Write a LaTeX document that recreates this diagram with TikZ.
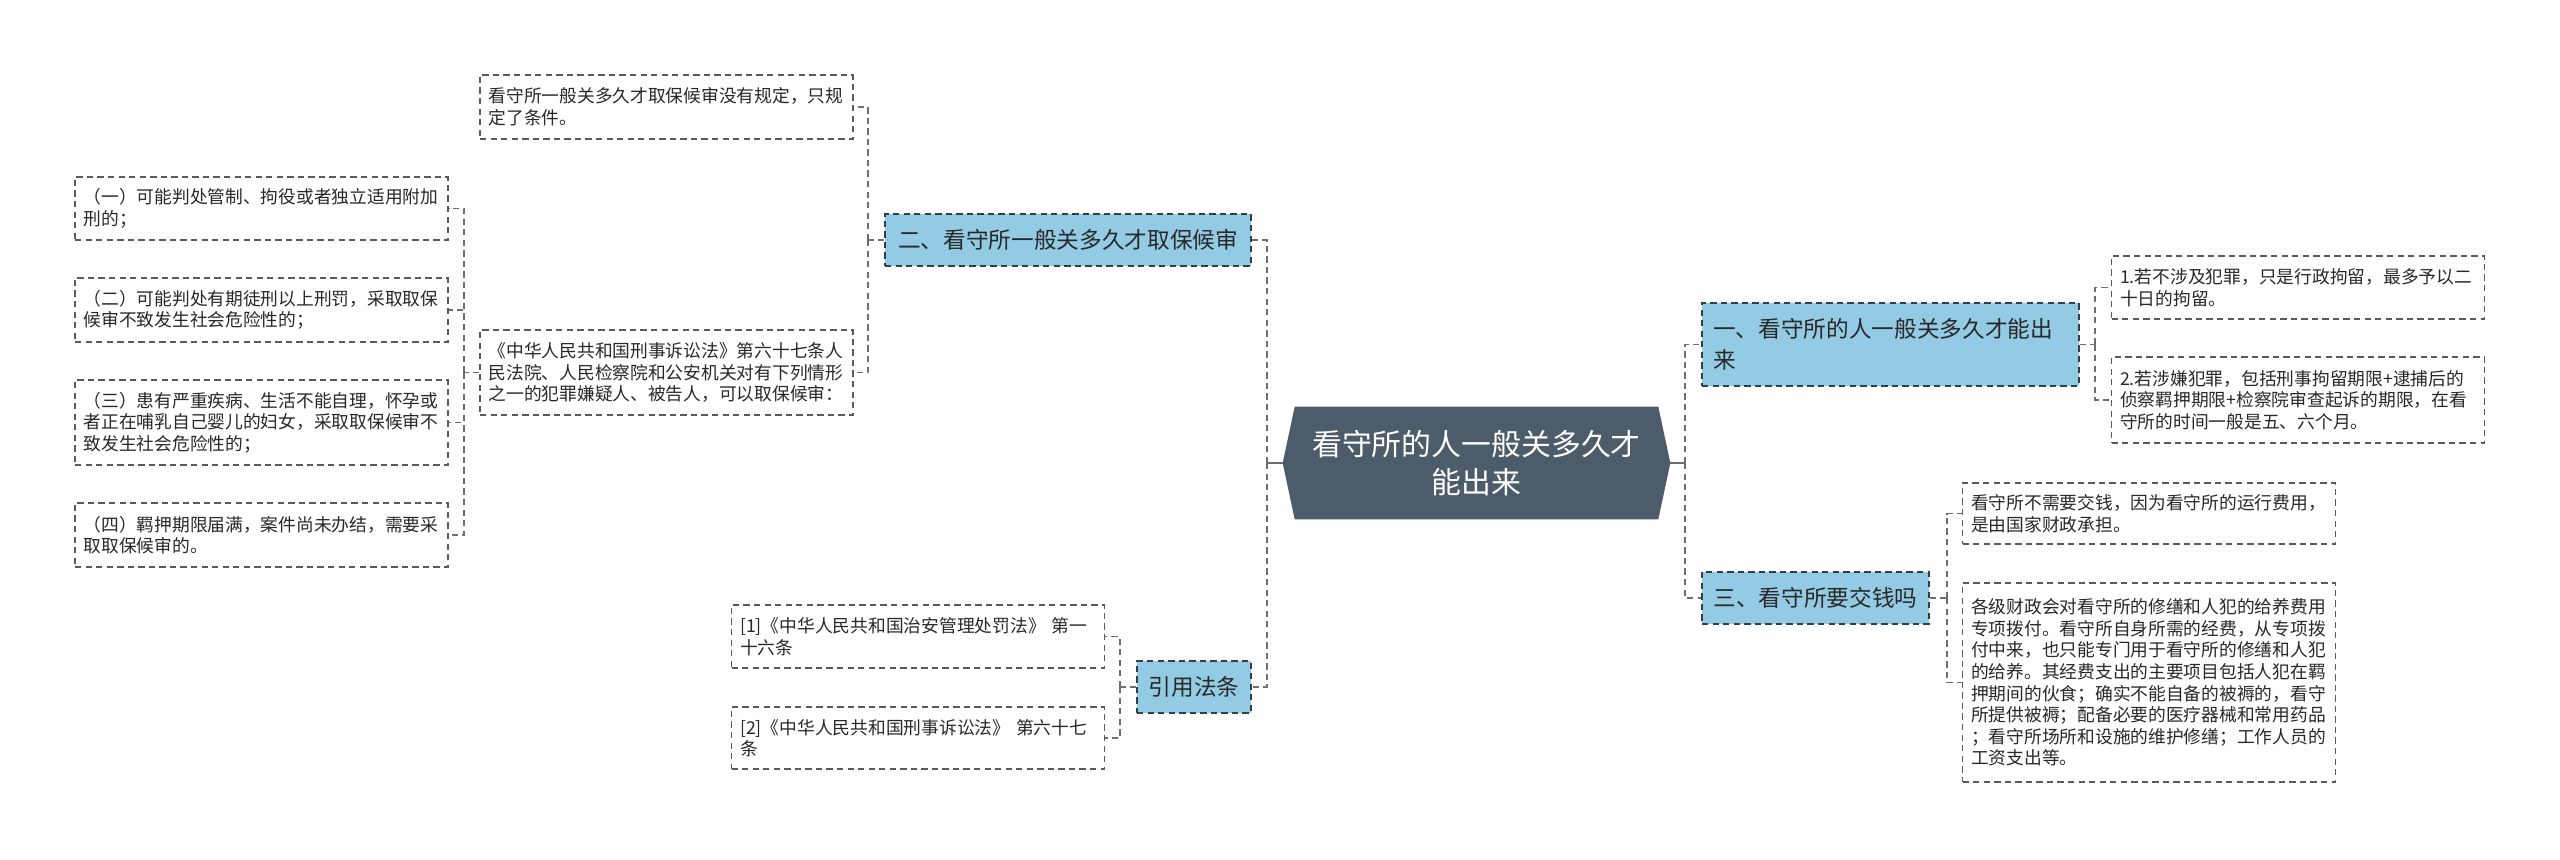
\documentclass[tikz,border=0pt]{standalone}
\usepackage{fontspec}
\setmainfont{Noto Sans CJK SC}
\definecolor{rootfill}{RGB}{76,92,106}
\definecolor{topicblue}{RGB}{148,203,228}
\definecolor{topicedge}{RGB}{45,62,76}
\definecolor{leafedge}{RGB}{90,90,90}
\definecolor{linkgray}{RGB}{110,110,110}
\definecolor{textdark}{RGB}{40,40,40}
\usetikzlibrary{backgrounds,calc}

\begin{document}
\begin{tikzpicture}[
  x=0.02cm, y=-0.02cm,
  every node/.style={text=textdark},
  leafbox/.style={draw=leafedge,line width=0.7pt,dash pattern=on 3.6pt off 2.4pt,
                  fill=white,align=left,text width=7.12cm,inner xsep=0.17cm,
                  inner ysep=0pt,font=\fontsize{10.1pt}{12.3pt}\selectfont},
  topicbox/.style={draw=topicedge,line width=0.7pt,dash pattern=on 3.6pt off 2.4pt,
                   fill=topicblue,minimum height=1.04cm,inner xsep=0.22cm,
                   font=\fontsize{12.9pt}{18pt}\selectfont},
  rootbox/.style={minimum width=7.74cm,minimum height=2.24cm,align=center,
                  text=white,font=\fontsize{17pt}{21.6pt}\selectfont},
  link/.style={draw=linkgray,line width=0.6pt,dash pattern=on 3.6pt off 2.4pt},
  stub/.style={draw=linkgray,line width=0.6pt},
]
  \useasboundingbox (0,0) rectangle (2560,859);

  % Root
  \node[rootbox] (root) at (1476.5,463) {看守所的人一般关多久才\\能出来};
  \begin{scope}[on background layer]
    \fill[rootfill] (root.west) -- ([xshift=0.24cm]root.north west)
      -- ([xshift=-0.24cm]root.north east) -- (root.east)
      -- ([xshift=-0.24cm]root.south east) -- ([xshift=0.24cm]root.south west) -- cycle;
  \end{scope}

  % Topics
  \node[topicbox,minimum width=7.32cm] (bail) at (1068,240)
    {二、看守所一般关多久才取保候审};
  \node[topicbox,minimum width=2.28cm] (cite) at (1194,687) {引用法条};
  \node[topicbox,minimum height=1.66cm,text width=7.1cm,align=left] (stay) at (1890.5,344.5)
    {一、看守所的人一般关多久才能出\\来};
  \node[topicbox,minimum width=4.54cm] (fee) at (1815.5,598) {三、看守所要交钱吗};

  % Leaves, left side
  \node[leafbox,minimum height=1.28cm] (norule) at (666.5,107)
    {看守所一般关多久才取保候审没有规定，只规\\定了条件。};
  \node[leafbox,minimum height=1.70cm] (law) at (666.5,372.5)
    {《中华人民共和国刑事诉讼法》第六十七条人\\民法院、人民检察院和公安机关对有下列情形\\之一的犯罪嫌疑人、被告人，可以取保候审：};
  \node[leafbox,minimum height=1.26cm] (case1) at (261.5,208.5)
    {（一）可能判处管制、拘役或者独立适用附加\\刑的；};
  \node[leafbox,minimum height=1.28cm] (case2) at (261.5,310)
    {（二）可能判处有期徒刑以上刑罚，采取取保\\候审不致发生社会危险性的；};
  \node[leafbox,minimum height=1.70cm] (case3) at (261.5,422.5)
    {（三）患有严重疾病、生活不能自理，怀孕或\\者正在哺乳自己婴儿的妇女，采取取保候审不\\致发生社会危险性的；};
  \node[leafbox,minimum height=1.28cm] (case4) at (261.5,535)
    {（四）羁押期限届满，案件尚未办结，需要采\\取取保候审的。};
  \node[leafbox,minimum height=1.26cm] (ref1) at (918,636.5)
    {[1]《中华人民共和国治安管理处罚法》 第一\\十六条};
  \node[leafbox,minimum height=1.24cm] (ref2) at (918,738)
    {[2]《中华人民共和国刑事诉讼法》 第六十七\\条};

  % Leaves, right side
  \node[leafbox,minimum height=1.26cm] (admin) at (2298,287.5)
    {1.若不涉及犯罪，只是行政拘留，最多予以二\\十日的拘留。};
  \node[leafbox,minimum height=1.72cm] (crime) at (2298,400)
    {2.若涉嫌犯罪，包括刑事拘留期限+逮捕后的\\侦察羁押期限+检察院审查起诉的期限，在看\\守所的时间一般是五、六个月。};
  \node[leafbox,minimum height=1.22cm] (nofee) at (2149,513.5)
    {看守所不需要交钱，因为看守所的运行费用，\\是由国家财政承担。};
  \node[leafbox,minimum height=3.98cm] (budget) at (2149,682.5)
    {各级财政会对看守所的修缮和人犯的给养费用\\专项拨付。看守所自身所需的经费，从专项拨\\付中来，也只能专门用于看守所的修缮和人犯\\的给养。其经费支出的主要项目包括人犯在羁\\押期间的伙食；确实不能自备的被褥的，看守\\所提供被褥；配备必要的医疗器械和常用药品\\；看守所场所和设施的维护修缮；工作人员的\\工资支出等。};

  % Junctions
  \coordinate (jl) at (1267,463);
  \coordinate (jr) at (1685,463);
  \coordinate (jbail) at (868,240);
  \coordinate (jlaw) at (464,372.5);
  \coordinate (jcite) at (1120,687);
  \coordinate (jstay) at (2095,344.5);
  \coordinate (jfee) at (1947,598);

  % Connectors
  \draw[stub] (root.west) -- (jl);
  \draw[stub] (root.east) -- (jr);
  \draw[link] (jl) |- (bail.east);
  \draw[link] (jl) |- (cite.east);
  \draw[link] (jr) |- (stay.west);
  \draw[link] (jr) |- (fee.west);
  \draw[link] (bail.west) -- (jbail);
  \draw[link] (jbail) |- (norule.east);
  \draw[link] (jbail) |- (law.east);
  \draw[link] (law.west) -- (jlaw);
  \foreach \c in {case1,case2,case3,case4}
    \draw[link] (jlaw) |- (\c.east);
  \draw[link] (cite.west) -- (jcite);
  \draw[link] (jcite) |- (ref1.east);
  \draw[link] (jcite) |- (ref2.east);
  \draw[link] (stay.east) -- (jstay);
  \draw[link] (jstay) |- (admin.west);
  \draw[link] (jstay) |- (crime.west);
  \draw[link] (fee.east) -- (jfee);
  \draw[link] (jfee) |- (nofee.west);
  \draw[link] (jfee) |- (budget.west);
\end{tikzpicture}
\end{document}
